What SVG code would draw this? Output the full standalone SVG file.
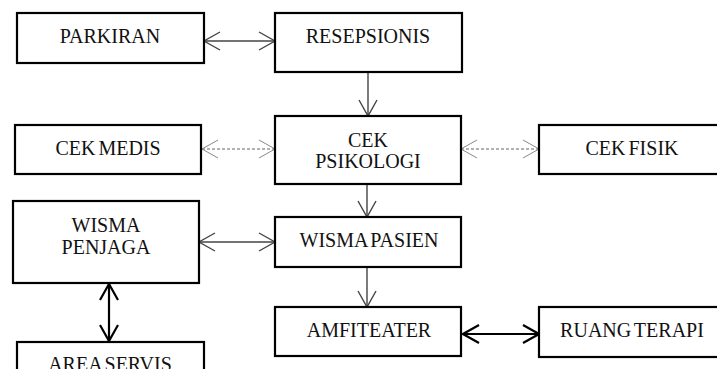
<svg xmlns="http://www.w3.org/2000/svg" width="717" height="369" viewBox="0 0 717 369">
<defs>
<style>
.box{fill:#fff;stroke:#000;stroke-width:2.2}
.t{font-family:"Liberation Serif","Times New Roman",serif;font-size:20px;fill:#111;text-anchor:middle;word-spacing:-2px}
.c{fill:none;stroke:#444;stroke-width:1.4}
.b{fill:none;stroke:#000;stroke-width:2.2}
.d{fill:none;stroke:#999;stroke-width:1.4;stroke-dasharray:3 2}
</style>
<marker id="ah" viewBox="-18 -10 20 20" refX="0" refY="0" markerWidth="20" markerHeight="20" markerUnits="userSpaceOnUse" orient="auto-start-reverse">
<path d="M-16,-9 L0,0 L-16,9" fill="none" stroke="#444" stroke-width="1.4"/>
</marker>
<marker id="ahb" viewBox="-18 -10 20 20" refX="0" refY="0" markerWidth="20" markerHeight="20" markerUnits="userSpaceOnUse" orient="auto-start-reverse">
<path d="M-16,-9 L0,0 L-16,9" fill="none" stroke="#000" stroke-width="2.2"/>
</marker>
<marker id="ahd" viewBox="-18 -10 20 20" refX="0" refY="0" markerWidth="20" markerHeight="20" markerUnits="userSpaceOnUse" orient="auto-start-reverse">
<path d="M-16,-9 L0,0 L-16,9" fill="none" stroke="#888" stroke-width="1"/>
</marker>
</defs>
<rect width="717" height="369" fill="#fff"/>
<g id="connectors">
<line class="c" x1="204" y1="41" x2="275" y2="41" marker-start="url(#ah)" marker-end="url(#ah)"/>
<line class="c" x1="368" y1="72" x2="368" y2="116" marker-end="url(#ah)"/>
<line class="d" x1="202" y1="149" x2="275" y2="149" marker-start="url(#ahd)" marker-end="url(#ahd)"/>
<line class="d" x1="461" y1="149" x2="539" y2="149" marker-start="url(#ahd)" marker-end="url(#ahd)"/>
<line class="c" x1="367" y1="184" x2="367" y2="217" marker-end="url(#ah)"/>
<line class="c" x1="199" y1="242" x2="275" y2="242" marker-start="url(#ah)" marker-end="url(#ah)"/>
<line class="b" x1="109" y1="284" x2="109" y2="341" marker-start="url(#ahb)" marker-end="url(#ahb)"/>
<line class="c" x1="367" y1="267" x2="367" y2="307" marker-end="url(#ah)"/>
<line class="b" x1="463" y1="334" x2="539" y2="334" marker-start="url(#ahb)" marker-end="url(#ahb)"/>
</g>
<g id="parkiran"><rect class="box" x="17" y="13" width="187" height="50"/><text class="t" x="110" y="43">PARKIRAN</text></g>
<g id="resepsionis"><rect class="box" x="275" y="13" width="187" height="59"/><text class="t" x="368" y="43">RESEPSIONIS</text></g>
<g id="cek-medis"><rect class="box" x="15" y="125" width="186" height="49"/><text class="t" x="108" y="155">CEK MEDIS</text></g>
<g id="cek-psikologi"><rect class="box" x="275" y="116" width="186" height="68"/><text class="t" x="368" y="147">CEK</text><text class="t" x="368" y="168">PSIKOLOGI</text></g>
<g id="cek-fisik"><rect class="box" x="539" y="125" width="186" height="49"/><text class="t" x="632" y="155">CEK FISIK</text></g>
<g id="wisma-penjaga"><rect class="box" x="13" y="201" width="186" height="82"/><text class="t" x="106" y="232">WISMA</text><text class="t" x="106" y="254">PENJAGA</text></g>
<g id="wisma-pasien"><rect class="box" x="275" y="217" width="186" height="50"/><text class="t" x="369" y="247">WISMA PASIEN</text></g>
<g id="amfiteater"><rect class="box" x="275" y="307" width="186" height="49"/><text class="t" x="369" y="337">AMFITEATER</text></g>
<g id="ruang-terapi"><rect class="box" x="539" y="307" width="186" height="50"/><text class="t" x="632" y="337">RUANG TERAPI</text></g>
<g id="area-servis"><rect class="box" x="17" y="342" width="187" height="50"/><text class="t" x="110" y="371">AREA SERVIS</text></g>
</svg>
